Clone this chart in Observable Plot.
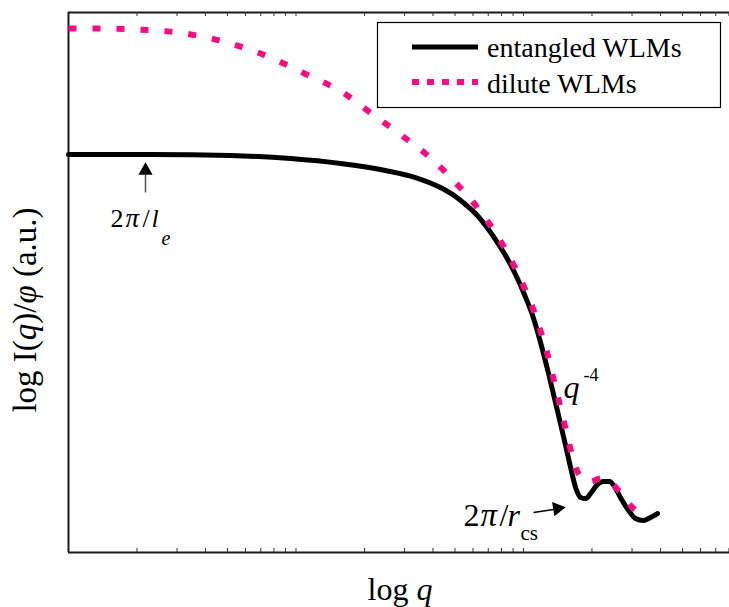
<!DOCTYPE html>
<html>
<head>
<meta charset="utf-8">
<script src="https://cdn.jsdelivr.net/npm/d3@7"></script>
<script src="https://cdn.jsdelivr.net/npm/@observablehq/plot@0.6"></script>
<style>
  html, body { margin: 0; padding: 0; background: #fff; }
  #chart { width: 729px; height: 607px; }
  #chart svg { overflow: visible; }
</style>
</head>
<body>
<div id="chart"></div>
<script>
// Scattering curves: log q against log I(q)/φ (arbitrary units)
const entangledLogQ = [0, 0.360, 0.712, 0.976, 1.196, 1.393, 1.525, 1.635, 1.701, 1.745,
  1.789, 1.833, 1.877, 1.921, 1.965, 2.004, 2.040, 2.075, 2.110, 2.149,
  2.185, 2.207, 2.229, 2.251, 2.273, 2.295, 2.321, 2.352, 2.378, 2.400,
  2.426, 2.462, 2.492, 2.527, 2.558, 2.589];
const entangledLogI = [7.370, 7.370, 7.352, 7.296, 7.204, 7.074, 6.944, 6.759, 6.593, 6.444,
  6.278, 6.056, 5.796, 5.500, 5.148, 4.778, 4.389, 3.889, 3.315, 2.630,
  1.981, 1.574, 1.204, 1.019, 1.000, 1.093, 1.241, 1.315, 1.315, 1.222,
  1.019, 0.778, 0.630, 0.593, 0.648, 0.722];
const diluteLogQ = [0, 0.110, 0.295, 0.479, 0.664, 0.844, 1.029, 1.226, 1.314, 1.459,
  1.604, 1.692, 1.776, 1.846, 1.908, 1.956, 2.000, 2.040, 2.070, 2.101,
  2.136, 2.167, 2.193, 2.215, 2.237, 2.264, 2.295, 2.338, 2.378, 2.418,
  2.479, 2.545];
const diluteLogI = [9.704, 9.704, 9.685, 9.630, 9.481, 9.241, 8.889, 8.463, 8.185, 7.741,
  7.259, 6.889, 6.500, 6.111, 5.704, 5.333, 4.944, 4.537, 4.167, 3.741,
  3.148, 2.611, 2.148, 1.778, 1.500, 1.352, 1.315, 1.370, 1.315, 1.148,
  0.833, 0.630];

const seriesNames = ["entangled WLMs", "dilute WLMs"];
const seriesColors = ["#000000", "#ff0a84"];
const seriesDash = [null, "7,8"];

// minor ticks of the log-q axis: 2..9 within each decade plus the decade marks
const tickMultipliers = [1, 2, 3, 4, 5, 6, 7, 8, 9];
const tickDecades = [0, 1, 2];

// annotation anchors (data units)
const leArrow = {q: 0.3385, I1: 6.667, I2: 7.0, headI: 7.074};
const rcsArrow = {q1: 2.044, I1: 0.741, q2: 2.132, I2: 0.796, headQ: 2.149, headI: 0.815, angle: 81};
const leLabel = {q: 0.1846, I: 6.019};
const slopeLabel = {q: 2.176, I: 2.852};
const rcsLabel = {q: 1.736, I: 0.5};

const SERIF = "'Liberation Serif', 'Times New Roman', serif";
const X_DOMAIN = [0, 2.9055];
const Y_DOMAIN = [0, 10];
const W = 729, H = 607;
const margin = {top: 12, right: 0, bottom: 55, left: 68};
const plotH = H - margin.top - margin.bottom;

const entangled = entangledLogQ.map((q, i) => ({q, I: entangledLogI[i]}));
const dilute = diluteLogQ.map((q, i) => ({q, I: diluteLogI[i]}));
const minorTicks = tickDecades
  .flatMap(d => tickMultipliers.map(k => d + Math.log10(k)))
  .filter(v => v > 0 && v <= X_DOMAIN[1]);

// a label built from separately styled pieces sharing one anchor
function label(anchor, pieces) {
  return pieces.map(p => Plot.text([anchor], {
    x: "q", y: "I", text: () => p.t,
    textAnchor: "start", lineAnchor: "bottom",
    dx: p.dx || 0, dy: p.dy || 0,
    fontFamily: SERIF, fontSize: p.size, fontStyle: p.italic ? "italic" : "normal",
    fill: "#000"
  }));
}

const chart = Plot.plot({
  width: W, height: H,
  marginTop: margin.top, marginRight: margin.right,
  marginBottom: margin.bottom, marginLeft: margin.left,
  x: {domain: X_DOMAIN, axis: null},
  y: {domain: Y_DOMAIN, axis: null},
  marks: [
    // frame: left, top and bottom edges
    Plot.ruleX([X_DOMAIN[0]], {stroke: "#1a1a1a", strokeWidth: 2}),
    Plot.ruleY(Y_DOMAIN, {stroke: "#1a1a1a", strokeWidth: 2}),
    Plot.tickX(minorTicks, {x: d => d, stroke: "#333", strokeWidth: 1, insetBottom: plotH - 4}),
    Plot.tickX(minorTicks, {x: d => d, stroke: "#333", strokeWidth: 1, insetTop: plotH - 4}),

    Plot.line(entangled, {x: "q", y: "I", curve: "monotone-x",
      stroke: seriesColors[0], strokeWidth: 5, strokeLinejoin: "round"}),
    Plot.line(dilute, {x: "q", y: "I", curve: "monotone-x",
      stroke: seriesColors[1], strokeWidth: 6, strokeDasharray: "8,16", strokeLinecap: "butt"}),

    // arrow to 2π/l_e
    Plot.link([leArrow], {x1: "q", x2: "q", y1: "I1", y2: "I2", stroke: "#555", strokeWidth: 1.5}),
    Plot.dot([leArrow], {x: "q", y: "headI", symbol: "triangle", r: 5.3, fill: "#000", stroke: null}),
    // arrow to 2π/r_cs
    Plot.link([rcsArrow], {x1: "q1", x2: "q2", y1: "I1", y2: "I2", stroke: "#000", strokeWidth: 1.5}),
    Plot.dot([rcsArrow], {x: "headQ", y: "headI", symbol: "triangle", r: 5.4, rotate: rcsArrow.angle, fill: "#000", stroke: null}),

    ...label(leLabel, [
      {t: "2", size: 26},
      {t: "π", dx: 15, size: 27, italic: true},
      {t: "/", dx: 32, size: 26},
      {t: "l", dx: 41, size: 26, italic: true},
      {t: "e", dx: 51, dy: 18, size: 20, italic: true}
    ]),
    ...label(slopeLabel, [
      {t: "q", size: 32, italic: true},
      {t: "-4", dx: 20, dy: -17, size: 18}
    ]),
    ...label(rcsLabel, [
      {t: "2", size: 32},
      {t: "π", dx: 17, size: 33, italic: true},
      {t: "/", dx: 36, size: 32},
      {t: "r", dx: 44, size: 32, italic: true},
      {t: "cs", dx: 57, dy: 14, size: 21}
    ])
  ]
});

document.getElementById("chart").append(chart);

const svg = d3.select(chart);

// axis titles
const xt = svg.append("text")
  .attr("x", 400).attr("y", 600)
  .attr("text-anchor", "middle").attr("font-family", SERIF)
  .attr("font-size", 32).attr("fill", "#000");
xt.append("tspan").text("log ");
xt.append("tspan").attr("font-style", "italic").text("q");

const yt = svg.append("text")
  .attr("transform", "translate(36,310) rotate(-90)")
  .attr("text-anchor", "middle").attr("font-family", SERIF)
  .attr("font-size", 33).attr("fill", "#000");
yt.append("tspan").text("log I(");
yt.append("tspan").attr("font-style", "italic").text("q");
yt.append("tspan").text(")/");
yt.append("tspan").attr("font-style", "italic").text("φ");
yt.append("tspan").text(" (a.u.)");

// legend
const lg = svg.append("g");
lg.append("rect")
  .attr("x", 377.5).attr("y", 22.5).attr("width", 343).attr("height", 85)
  .attr("fill", "#fff").attr("stroke", "#000").attr("stroke-width", 1.2);
seriesNames.forEach((name, i) => {
  const cy = 47 + i * 35;
  lg.append("line")
    .attr("x1", 412).attr("x2", 478).attr("y1", cy).attr("y2", cy)
    .attr("stroke", seriesColors[i]).attr("stroke-width", i === 0 ? 5 : 6)
    .attr("stroke-dasharray", seriesDash[i]);
  lg.append("text")
    .attr("x", 487).attr("y", cy + 10 + i)
    .attr("text-anchor", "start")
    .style("font-family", SERIF).style("font-size", "28px")
    .attr("fill", "#000")
    .text(name);
});
</script>
</body>
</html>
